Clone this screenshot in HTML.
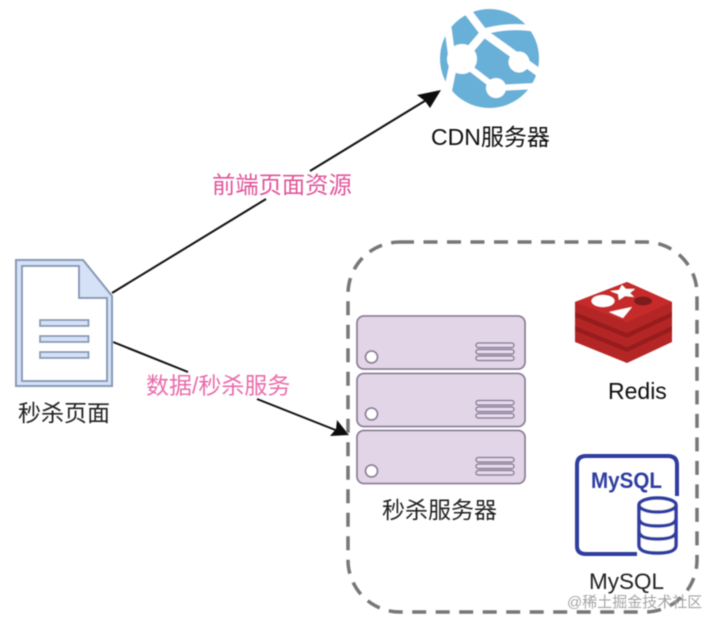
<!DOCTYPE html>
<html><head><meta charset="utf-8">
<style>html,body{margin:0;padding:0;background:#fff}svg{display:block}
text{font-family:"Liberation Sans","Noto Sans CJK SC",sans-serif}</style></head>
<body>
<svg width="720" height="629" viewBox="0 0 720 629" xmlns="http://www.w3.org/2000/svg">
<defs><filter id="b" x="-5%" y="-5%" width="110%" height="110%"><feGaussianBlur stdDeviation="0.45"/></filter></defs>
<g filter="url(#b)">
<!-- connectors -->
<path d="M112 293L266 199M310 171L428 99" stroke="#111" stroke-width="2" fill="none"/>
<path d="M441 90L417 95L425 101L430 108Z" fill="#111"/>
<path d="M113 342L188 372M257 399L338 431" stroke="#111" stroke-width="2" fill="none"/>
<path d="M349 435L330 436L336 429L337 420Z" fill="#111"/>
<!-- labels -->
<text x="212" y="193" font-size="23.300" fill="#e0559a">前端页面资源</text>
<text x="146" y="393.500" font-size="23" fill="#ea6cab">数据/秒杀服务</text>
<!-- dashed -->
<rect x="348" y="242" width="349" height="370" rx="52" fill="none" stroke="#777" stroke-width="3.500" stroke-dasharray="14 9.500"/>
<!-- globe -->
<circle cx="489.500" cy="58.500" r="49.500" fill="#68b0d8"/>
<g stroke="#fff" fill="none">
<path d="M468 12L484 33L541 74" stroke-width="8"/>
<path d="M482 32Q510 24 537 29" stroke-width="6"/>
<path d="M448 28L452 58" stroke-width="7"/>
<path d="M453 66L446 100" stroke-width="8"/>
<path d="M462 59L484 33" stroke-width="8"/>
<path d="M470 68L496 88" stroke-width="6"/>
<path d="M496 88L536 86" stroke-width="6"/>
</g>
<circle cx="462" cy="59" r="15" fill="#fff"/>
<circle cx="519" cy="62" r="10.500" fill="#fff"/>
<circle cx="496" cy="88" r="10" fill="#fff"/>
<!-- cdn label -->
<text x="431" y="145" font-size="23" fill="#111">CDN服务器</text>
<!-- doc -->
<path d="M16 260H83L112 296V386H16Z" fill="#d4e1f7" stroke="#8497b4" stroke-width="2"/>
<path d="M22 266H79V298H107V381H22Z" fill="#fff" stroke="#8497b4" stroke-width="2"/>
<g fill="#d4e1f7" stroke="#8497b4" stroke-width="1.800">
<rect x="40" y="320" width="48.500" height="6"/>
<rect x="40" y="336" width="48.500" height="6"/>
<rect x="40" y="352" width="48.500" height="6"/>
</g>
<text x="18" y="421" font-size="23" fill="#222">秒杀页面</text>
<!-- servers -->
<g>
<rect x="357" y="316" width="168" height="53" rx="7" fill="#e2d5e8" stroke="#8a7f98" stroke-width="1.800"/>
<circle cx="371.500" cy="357" r="6" fill="#fff" stroke="#8a7f98" stroke-width="1.800"/>
<g fill="#e8dcee" stroke="#8a7f98" stroke-width="1.500">
<rect x="476" y="343" width="38" height="4.500" rx="2.200"/>
<rect x="476" y="349.500" width="38" height="4.500" rx="2.200"/>
<rect x="476" y="356" width="38" height="4.500" rx="2.200"/>
</g>
</g>
<g>
<rect x="357" y="373.500" width="168" height="53" rx="7" fill="#e2d5e8" stroke="#8a7f98" stroke-width="1.800"/>
<circle cx="371.500" cy="414" r="6" fill="#fff" stroke="#8a7f98" stroke-width="1.800"/>
<g fill="#e8dcee" stroke="#8a7f98" stroke-width="1.500">
<rect x="476" y="400.500" width="38" height="4.500" rx="2.200"/>
<rect x="476" y="407" width="38" height="4.500" rx="2.200"/>
<rect x="476" y="413.500" width="38" height="4.500" rx="2.200"/>
</g>
</g>
<g>
<rect x="357" y="430.500" width="168" height="53" rx="7" fill="#e2d5e8" stroke="#8a7f98" stroke-width="1.800"/>
<circle cx="371.500" cy="471" r="6" fill="#fff" stroke="#8a7f98" stroke-width="1.800"/>
<g fill="#e8dcee" stroke="#8a7f98" stroke-width="1.500">
<rect x="476" y="457.500" width="38" height="4.500" rx="2.200"/>
<rect x="476" y="464" width="38" height="4.500" rx="2.200"/>
<rect x="476" y="470.500" width="38" height="4.500" rx="2.200"/>
</g>
</g>
<text x="382" y="518" font-size="23" fill="#222">秒杀服务器</text>
<!-- redis -->
<path d="M575 302L627 282L672 302V342L627 363L575 342Z" fill="#b42828"/>
<path d="M575 312L627 333L672 312V317L627 338L575 317Z" fill="#981f1f"/>
<path d="M575 326L627 347L672 326V331L627 352L575 331Z" fill="#981f1f"/>
<path d="M575 302L627 282L672 302L627 322Z" fill="#c62c2c"/>
<ellipse cx="603" cy="301" rx="11.500" ry="6" fill="#fff"/>
<path d="M622 285L626 289L635 289L630 293L634 297L625 296L619 300L618 294L610 291L619 290Z" fill="#fff"/>
<path d="M609 312L632 307L623 318Z" fill="#fff"/>
<ellipse cx="643" cy="301" rx="9" ry="4.500" fill="#7c1a1a"/>
<text x="608" y="399" font-size="23" fill="#111">Redis</text>
<!-- mysql -->
<path d="M637 554H586Q577 554 577 546V465Q577 456 586 456H668Q677 456 677 465V496" fill="none" stroke="#2f3ea0" stroke-width="4"/>
<text x="591" y="488" font-size="22" font-weight="bold" fill="#2f3ea0" textLength="71" lengthAdjust="spacingAndGlyphs">MySQL</text>
<g fill="#fff" stroke="#2f3ea0" stroke-width="3.500">
<path d="M639 505V545Q639 553 657.500 553Q676 553 676 545V505"/>
<ellipse cx="657.500" cy="505" rx="18.500" ry="7"/>
<path d="M639 518Q639 526 657.500 526Q676 526 676 518M639 531Q639 539 657.500 539Q676 539 676 531" fill="none"/>
</g>
<text x="589" y="589" font-size="22.500" fill="#222">MySQL</text>
<!-- watermark -->
<text x="567" y="607" font-size="15" fill="#9a9a9a" fill-opacity="0.9">@稀土掘金技术社区</text>
</g>
</svg>
</body></html>
